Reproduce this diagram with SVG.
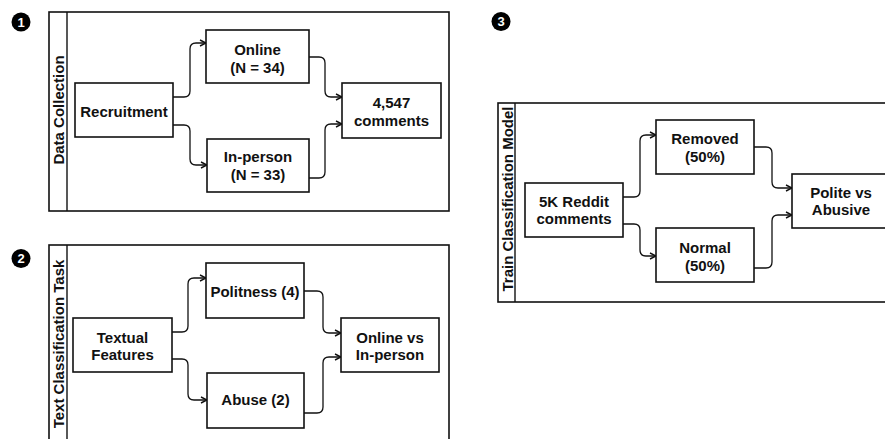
<svg xmlns="http://www.w3.org/2000/svg" width="885" height="439" viewBox="0 0 885 439">
<style>
.bg{fill:#ffffff}
.frame{fill:#ffffff;stroke:#111;stroke-width:1.6}
.box{fill:#ffffff;stroke:#111;stroke-width:1.6}
.hdr{fill:none;stroke:#111;stroke-width:1.4}
.t{font-family:"Liberation Sans",Arial,Helvetica,sans-serif;font-weight:bold;font-size:15px;fill:#111;text-anchor:middle}
.badge{fill:#000}
.bt{font-family:"Liberation Sans",Arial,Helvetica,sans-serif;font-weight:bold;font-size:13px;fill:#fff;text-anchor:middle}
.edge{fill:none;stroke:#111;stroke-width:1.3;marker-end:url(#arr)}
</style>
<defs>
<marker id="arr" markerWidth="8" markerHeight="8" refX="7" refY="4" orient="auto" markerUnits="userSpaceOnUse">
<path d="M1,1 L7,4 L1,7" fill="none" stroke="#111" stroke-width="1.4"/>
</marker>
</defs>
<rect class="bg" x="0" y="0" width="885" height="439"/>

<g id="panel1">
<circle class="badge" cx="21" cy="22" r="9.5"/>
<text class="bt" x="21" y="26.5">1</text>
<rect class="frame" x="49" y="12" width="400" height="199"/>
<line class="hdr" x1="67" y1="12" x2="67" y2="211"/>
<text class="t" transform="translate(63.5,110) rotate(-90)">Data Collection</text>
</g>
<g id="panel2">
<circle class="badge" cx="21" cy="258.5" r="9.5"/>
<text class="bt" x="21" y="263">2</text>
<rect class="frame" x="49" y="245" width="400" height="200"/>
<line class="hdr" x1="67" y1="245" x2="67" y2="445"/>
<text class="t" transform="translate(63.5,344) rotate(-90)">Text Classification Task</text>
</g>
<g id="panel3">
<circle class="badge" cx="501" cy="21.5" r="9.5"/>
<text class="bt" x="501" y="26">3</text>
<rect class="frame" x="498" y="103" width="400" height="199"/>
<line class="hdr" x1="515" y1="103" x2="515" y2="302"/>
<text class="t" transform="translate(513,199) rotate(-90)">Train Classification Model</text>
</g>

<g id="connectors">
<path class="edge" d="M173,97 H184 Q190,97 190,91 V49 Q190,43 196,43 H206"/>
<path class="edge" d="M173,125 H184 Q190,125 190,131 V159 Q190,165 196,165 H207"/>
<path class="edge" d="M309,57 H319 Q325,57 325,63 V91 Q325,97 331,97 H342"/>
<path class="edge" d="M309,178 H319 Q325,178 325,172 V130 Q325,124 331,124 H342"/>

<path class="edge" d="M172,332 H182 Q188,332 188,326 V284 Q188,278 194,278 H206"/>
<path class="edge" d="M172,359 H182 Q188,359 188,365 V394 Q188,400 194,400 H207"/>
<path class="edge" d="M304,291 H317 Q323,291 323,297 V327 Q323,333 329,333 H341"/>
<path class="edge" d="M304,413 H317 Q323,413 323,407 V363 Q323,357 329,357 H341"/>

<path class="edge" d="M623,197 H634 Q640,197 640,191 V141 Q640,135 646,135 H656"/>
<path class="edge" d="M623,224 H634 Q640,224 640,230 V250 Q640,256 646,256 H656"/>
<path class="edge" d="M754,147 H766 Q772,147 772,153 V182 Q772,188 778,188 H792"/>
<path class="edge" d="M754,268 H766 Q772,268 772,262 V221 Q772,215 778,215 H792"/>
</g>

<g id="recruitment">
<rect class="box" x="75" y="83" width="98" height="54"/>
<text class="t" x="124" y="117">Recruitment</text>
</g>
<g id="online">
<rect class="box" x="206" y="30" width="103" height="53"/>
<text class="t" x="257.5" y="55">Online</text>
<text class="t" x="257.5" y="73">(N = 34)</text>
</g>
<g id="inperson">
<rect class="box" x="207" y="139" width="102" height="53"/>
<text class="t" x="258" y="162">In-person</text>
<text class="t" x="258" y="180">(N = 33)</text>
</g>
<g id="comments">
<rect class="box" x="342" y="83" width="99" height="55"/>
<text class="t" x="391.5" y="108">4,547</text>
<text class="t" x="391.5" y="126">comments</text>
</g>

<g id="textual">
<rect class="box" x="73" y="318" width="99" height="54"/>
<text class="t" x="122.5" y="343">Textual</text>
<text class="t" x="122.5" y="360">Features</text>
</g>
<g id="politness">
<rect class="box" x="206" y="263" width="98" height="55"/>
<text class="t" x="255" y="297">Politness (4)</text>
</g>
<g id="abuse">
<rect class="box" x="207" y="373" width="97" height="55"/>
<text class="t" x="255.5" y="405">Abuse (2)</text>
</g>
<g id="onlinevs">
<rect class="box" x="341" y="318" width="98" height="54"/>
<text class="t" x="390" y="343">Online vs</text>
<text class="t" x="390" y="360">In-person</text>
</g>

<g id="reddit">
<rect class="box" x="525" y="183" width="98" height="54"/>
<text class="t" x="574" y="207">5K Reddit</text>
<text class="t" x="574" y="224">comments</text>
</g>
<g id="removed">
<rect class="box" x="656" y="120" width="98" height="54"/>
<text class="t" x="705" y="144">Removed</text>
<text class="t" x="705" y="162">(50%)</text>
</g>
<g id="normal">
<rect class="box" x="656" y="228" width="98" height="54"/>
<text class="t" x="705" y="253">Normal</text>
<text class="t" x="705" y="271">(50%)</text>
</g>
<g id="polite">
<rect class="box" x="792" y="174" width="98" height="54"/>
<text class="t" x="841" y="198">Polite vs</text>
<text class="t" x="841" y="215">Abusive</text>
</g>
</svg>
